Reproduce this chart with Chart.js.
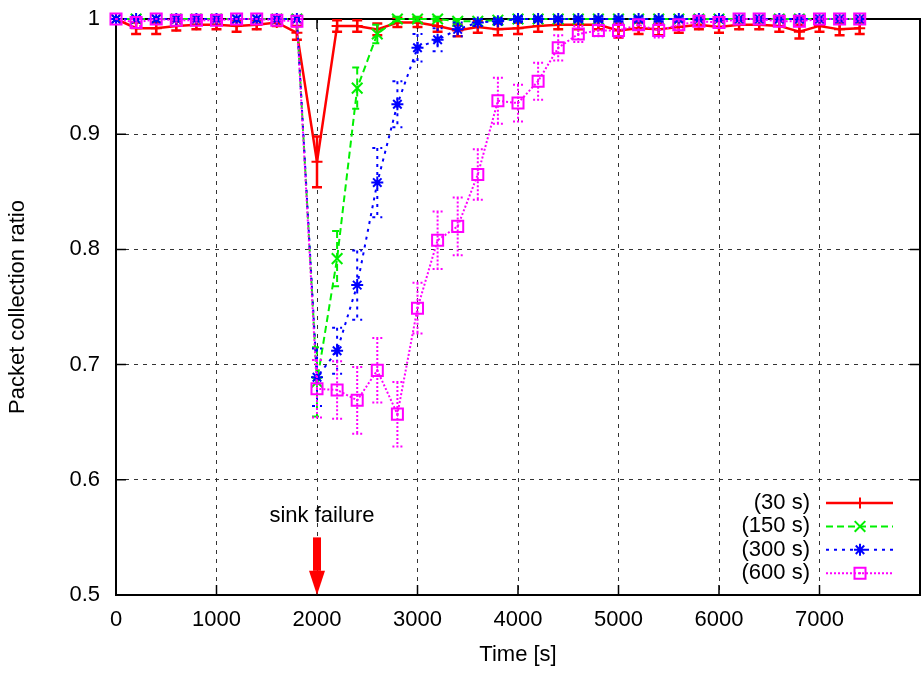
<!DOCTYPE html>
<html>
<head>
<meta charset="utf-8">
<script src="https://cdn.jsdelivr.net/npm/chart.js@4"></script>
<style>
  html, body { margin: 0; padding: 0; background: #fff; }
</style>
</head>
<body>
<canvas id="ratioChart" width="921" height="675"></canvas>
<script>
// time axis (s), one sample every 200 s
const times = [0, 200, 400, 600, 800, 1000, 1200, 1400, 1600, 1800,
  2000, 2200, 2400, 2600, 2800, 3000, 3200, 3400, 3600, 3800,
  4000, 4200, 4400, 4600, 4800, 5000, 5200, 5400, 5600, 5800,
  6000, 6200, 6400, 6600, 6800, 7000, 7200, 7400];

const ratio30 = [1.0, 0.992, 0.992, 0.994, 0.995, 0.995, 0.994, 0.995, 0.997, 0.988,
  0.876, 0.994, 0.994, 0.991, 0.997, 0.997, 0.994, 0.990, 0.993, 0.991,
  0.992, 0.994, 0.995, 0.995, 0.995, 0.990, 0.992, 0.991, 0.993, 0.995,
  0.993, 0.995, 0.995, 0.994, 0.989, 0.994, 0.991, 0.992];
const err30 = [0, 0.005, 0.005, 0.004, 0.004, 0.004, 0.005, 0.004, 0.003, 0.006,
  0.022, 0.005, 0.005, 0.005, 0.004, 0.004, 0.005, 0.005, 0.005, 0.005,
  0.005, 0.005, 0.004, 0.004, 0.004, 0.006, 0.005, 0.005, 0.005, 0.004,
  0.005, 0.004, 0.004, 0.005, 0.006, 0.005, 0.005, 0.005];

const ratio150 = [1.0, 1.0, 1.0, 1.0, 1.0, 1.0, 1.0, 1.0, 1.0, 1.0,
  0.685, 0.792, 0.940, 0.987, 1.0, 1.0, 1.0, 0.998, 0.998, 0.999,
  1.0, 1.0, 1.0, 1.0, 1.0, 1.0, 1.0, 1.0, 1.0, 1.0,
  1.0, 1.0, 1.0, 1.0, 1.0, 1.0, 1.0, 1.0];
const err150 = [0, 0, 0, 0, 0, 0, 0, 0, 0, 0,
  0.030, 0.024, 0.018, 0.008, 0.002, 0.002, 0.002, 0.002, 0.002, 0.002,
  0.002, 0.002, 0.002, 0.002, 0.002, 0.002, 0.002, 0.002, 0.002, 0.002,
  0.002, 0.002, 0.002, 0.002, 0.002, 0.002, 0.002, 0.002];

const ratio300 = [1.0, 1.0, 1.0, 1.0, 1.0, 1.0, 1.0, 1.0, 1.0, 1.0,
  0.689, 0.712, 0.769, 0.858, 0.926, 0.975, 0.982, 0.991, 0.997, 0.998,
  1.0, 1.0, 1.0, 1.0, 1.0, 1.0, 1.0, 1.0, 1.0, 1.0,
  1.0, 1.0, 1.0, 1.0, 1.0, 1.0, 1.0, 1.0];
const err300 = [0, 0, 0, 0, 0, 0, 0, 0, 0, 0,
  0.025, 0.020, 0.030, 0.030, 0.020, 0.012, 0.010, 0.006, 0.003, 0.002,
  0.002, 0.002, 0.002, 0.002, 0.002, 0.002, 0.002, 0.002, 0.002, 0.002,
  0.002, 0.002, 0.002, 0.002, 0.002, 0.002, 0.002, 0.002];

const ratio600 = [1.0, 0.997, 1.0, 0.999, 0.999, 0.999, 1.0, 1.0, 0.999, 0.998,
  0.679, 0.678, 0.669, 0.695, 0.657, 0.749, 0.808, 0.820, 0.865, 0.929,
  0.927, 0.946, 0.975, 0.987, 0.990, 0.990, 0.995, 0.990, 0.995, 0.998,
  0.997, 1.0, 1.0, 0.998, 0.998, 1.0, 1.0, 1.0];
const err600 = [0, 0.003, 0, 0.002, 0.002, 0.002, 0, 0, 0.002, 0.002,
  0.025, 0.025, 0.029, 0.028, 0.028, 0.022, 0.025, 0.025, 0.022, 0.020,
  0.016, 0.016, 0.011, 0.007, 0.005, 0.006, 0.004, 0.006, 0.004, 0.003,
  0.003, 0.002, 0.002, 0.003, 0.003, 0.002, 0.002, 0.002];

const seriesLabels = ['(30 s)', '(150 s)', '(300 s)', '(600 s)'];
const xTickLabels = ['0', '1000', '2000', '3000', '4000', '5000', '6000', '7000'];
const yTickLabels = ['0.5', '0.6', '0.7', '0.8', '0.9', '1'];

const failureTime = 2000;
const failureText = 'sink failure';

const FONT = 'Liberation Sans, Arial, Helvetica, sans-serif';
Chart.defaults.font.family = FONT;
Chart.defaults.font.size = 22;
Chart.defaults.color = '#000';

function series(label, values, errors, color, dash, width, style, radius, order) {
  return {
    label: label,
    data: times.map((t, i) => ({ x: t, y: values[i] })),
    errors: errors,
    borderColor: color,
    backgroundColor: color,
    borderWidth: width,
    borderDash: dash,
    pointStyle: style,
    pointRadius: radius,
    pointBorderColor: color,
    pointBackgroundColor: 'rgba(0,0,0,0)',
    pointBorderWidth: 2,
    tension: 0,
    fill: false,
    clip: false,
    order: order
  };
}

const datasets = [
  series(seriesLabels[0], ratio30, err30, '#ff0000', [], 2.5, 'cross', 5.5, 4),
  series(seriesLabels[1], ratio150, err150, '#00f000', [7, 4], 2, 'crossRot', 7.5, 3),
  series(seriesLabels[2], ratio300, err300, '#0000ff', [3, 5], 2, 'star', 6, 2),
  series(seriesLabels[3], ratio600, err600, '#ff00ff', [2, 2], 2, 'rect', 7.8, 1)
];
datasets[3].centerDot = true;

// vertical error bars with caps, drawn just before each dataset
const errorBars = {
  id: 'errorBars',
  beforeDatasetDraw(chart, args) {
    const ds = chart.data.datasets[args.index];
    const ys = chart.scales.y;
    const ctx = chart.ctx;
    ctx.save();
    ctx.strokeStyle = ds.borderColor;
    ctx.lineWidth = ds.borderWidth;
    ctx.setLineDash(ds.borderDash);
    args.meta.data.forEach((pt, i) => {
      const e = ds.errors[i];
      if (!e) return;
      const v = ds.data[i].y;
      const top = ys.getPixelForValue(v + e);
      const bot = ys.getPixelForValue(v - e);
      ctx.beginPath();
      ctx.moveTo(pt.x, top); ctx.lineTo(pt.x, bot);
      ctx.moveTo(pt.x - 5, top); ctx.lineTo(pt.x + 5, top);
      ctx.moveTo(pt.x - 5, bot); ctx.lineTo(pt.x + 5, bot);
      ctx.stroke();
    });
    ctx.restore();
  },
  afterDatasetDraw(chart, args) {
    const ds = chart.data.datasets[args.index];
    if (!ds.centerDot) return;
    const ctx = chart.ctx;
    ctx.save();
    ctx.fillStyle = ds.borderColor;
    args.meta.data.forEach(pt => ctx.fillRect(pt.x - 1, pt.y - 1, 2, 2));
    ctx.restore();
  }
};

// gnuplot style frame with inward ticks on all four sides
const frame = {
  id: 'frame',
  beforeDatasetsDraw(chart) {
    const { ctx, chartArea: a, scales } = chart;
    ctx.save();
    ctx.strokeStyle = '#000';
    ctx.lineWidth = 2;
    ctx.setLineDash([]);
    ctx.strokeRect(a.left, a.top, a.right - a.left, a.bottom - a.top);
    ctx.lineWidth = 1.5;
    ctx.beginPath();
    scales.x.ticks.forEach(t => {
      const px = scales.x.getPixelForValue(t.value);
      ctx.moveTo(px, a.bottom); ctx.lineTo(px, a.bottom - 10);
      ctx.moveTo(px, a.top); ctx.lineTo(px, a.top + 10);
    });
    scales.y.ticks.forEach(t => {
      const py = scales.y.getPixelForValue(t.value);
      ctx.moveTo(a.left, py); ctx.lineTo(a.left + 10, py);
      ctx.moveTo(a.right, py); ctx.lineTo(a.right - 10, py);
    });
    ctx.stroke();
    ctx.restore();
  }
};

// "sink failure" label and arrow
const failureMark = {
  id: 'failureMark',
  afterDatasetsDraw(chart) {
    const { ctx, scales } = chart;
    const x = scales.x.getPixelForValue(failureTime);
    const yTop = scales.y.getPixelForValue(0.55);
    const yHead = scales.y.getPixelForValue(0.521);
    const yTip = scales.y.getPixelForValue(0.5);
    ctx.save();
    ctx.fillStyle = '#ff0000';
    ctx.fillRect(x - 4, yTop, 8, yHead - yTop);
    ctx.beginPath();
    ctx.moveTo(x - 8, yHead);
    ctx.lineTo(x + 8, yHead);
    ctx.lineTo(x, yTip);
    ctx.closePath();
    ctx.fill();
    ctx.fillStyle = '#000';
    ctx.font = '22px ' + FONT;
    ctx.textAlign = 'center';
    ctx.textBaseline = 'middle';
    ctx.fillText(failureText, x + 5, scales.y.getPixelForValue(0.569));
    ctx.restore();
  }
};

// legend in the lower right corner, gnuplot style
const keyBox = {
  id: 'keyBox',
  afterDraw(chart) {
    const ctx = chart.ctx;
    const a = chart.chartArea;
    chart.data.datasets.forEach((ds, i) => {
      const y = a.bottom - 92 + i * 23.4;
      ctx.save();
      ctx.fillStyle = '#000';
      ctx.font = '22px ' + FONT;
      ctx.textAlign = 'right';
      ctx.textBaseline = 'middle';
      ctx.fillText(ds.label, a.right - 110, y);
      ctx.strokeStyle = ds.borderColor;
      ctx.lineWidth = ds.borderWidth;
      ctx.setLineDash(ds.borderDash);
      ctx.beginPath();
      ctx.moveTo(a.right - 94, y);
      ctx.lineTo(a.right - 27, y);
      ctx.stroke();
      ctx.setLineDash([]);
      ctx.lineWidth = 2;
      ctx.fillStyle = 'rgba(0,0,0,0)';
      Chart.helpers.drawPoint(ctx, {
        pointStyle: ds.pointStyle, radius: ds.pointRadius, rotation: 0, borderWidth: 2
      }, a.right - 60, y);
      if (ds.centerDot) {
        ctx.fillStyle = ds.borderColor;
        ctx.fillRect(a.right - 61, y - 1, 2, 2);
      }
      ctx.restore();
    });
  }
};

new Chart(document.getElementById('ratioChart').getContext('2d'), {
  type: 'line',
  data: { datasets: datasets },
  options: {
    responsive: false,
    animation: false,
    layout: { autoPadding: false, padding: { top: 19, right: 1, left: 0, bottom: 0 } },
    plugins: {
      legend: { display: false },
      tooltip: { enabled: false }
    },
    scales: {
      x: {
        type: 'linear',
        min: 0,
        max: 8000,
        afterFit: s => { s.height = 80; s.paddingLeft = 0; s.paddingRight = 0; },
        ticks: {
          stepSize: 1000,
          padding: 12,
          maxRotation: 0,
          autoSkip: false,
          callback: v => xTickLabels[Math.round(v / 1000)] ?? ''
        },
        grid: { color: '#333', lineWidth: 1, drawTicks: false },
        border: { display: false, dash: [4, 5] },
        title: { display: true, text: 'Time [s]', padding: { top: 0, bottom: 7 } }
      },
      y: {
        min: 0.5,
        max: 1,
        afterFit: s => { s.width = 116; s.paddingTop = 0; s.paddingBottom = 0; },
        ticks: {
          stepSize: 0.1,
          padding: 16,
          callback: v => yTickLabels[Math.round((v - 0.5) * 10)] ?? ''
        },
        grid: { color: '#333', lineWidth: 1, drawTicks: false },
        border: { display: false, dash: [4, 5] },
        title: { display: true, text: 'Packet collection ratio', padding: { top: 5, bottom: 0 } }
      }
    }
  },
  plugins: [errorBars, frame, failureMark, keyBox]
});
</script>
</body>
</html>
